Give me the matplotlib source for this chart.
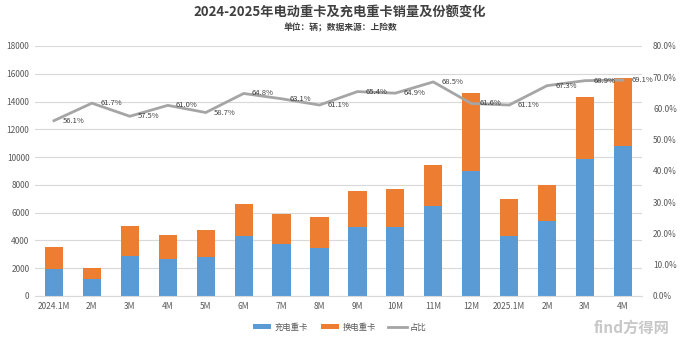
import matplotlib
matplotlib.use("Agg")
import matplotlib.pyplot as plt
from matplotlib.lines import Line2D
from matplotlib.patches import Patch

plt.rcParams['font.family'] = ['Noto Sans CJK SC', 'DejaVu Sans']

# Monthly sales (vehicles) and share of charging trucks
months = ["2024.1M", "2M", "3M", "4M", "5M", "6M", "7M", "8M",
          "9M", "10M", "11M", "12M", "2025.1M", "2M", "3M", "4M"]
charging = [1964, 1234, 2898, 2677, 2788, 4283, 3741, 3490,
            4965, 4993, 6473, 8984, 4286, 5401, 9884, 10827]
swapping = [1536, 766, 2142, 1712, 1962, 2326, 2188, 2222,
            2627, 2700, 2977, 5600, 2728, 2625, 4461, 4842]
share = [56.1, 61.7, 57.5, 61.0, 58.7, 64.8, 63.1, 61.1,
         65.4, 64.9, 68.5, 61.6, 61.1, 67.3, 68.9, 69.1]

BLUE = "#5B9BD5"
ORANGE = "#ED7D31"
GRAY = "#A5A5A5"
TICK = "#595959"

fig = plt.figure(figsize=(6.8, 3.38), dpi=100)
ax = fig.add_axes([0.0515, 0.1243, 0.8925, 0.7397])
ax2 = ax.twinx()

x = list(range(len(months)))
ax.bar(x, charging, width=0.48, color=BLUE, zorder=2)
ax.bar(x, swapping, width=0.48, bottom=charging, color=ORANGE, zorder=2)

ax.set_xlim(-0.5, len(months) - 0.5)
ax.set_ylim(0, 18000)
ax.set_yticks(range(0, 18001, 2000))
ax.set_xticks(x)
ax.set_xticklabels(months)
ax.grid(axis='y', color="#D9D9D9", linewidth=0.8, zorder=0)
ax.set_axisbelow(True)
for s in ["top", "left", "right"]:
    ax.spines[s].set_visible(False)
ax.spines["bottom"].set_color("#D9D9D9")
ax.tick_params(axis='both', length=0, labelsize=6, labelcolor=TICK)
ax.tick_params(axis='y', pad=4)
ax.tick_params(axis='x', pad=4)

ax2.plot(x, share, color=GRAY, linewidth=2, zorder=3)
ax2.set_ylim(0, 80)
ax2.set_yticks(range(0, 81, 10))
ax2.set_yticklabels([f"{v:.1f}%" for v in range(0, 81, 10)])
for s in ["top", "left", "right", "bottom"]:
    ax2.spines[s].set_visible(False)
ax2.tick_params(axis='y', length=0, labelsize=6, labelcolor=TICK, pad=8)

for xi, v in zip(x, share):
    ax2.annotate(f"{v:.1f}%", (xi, v), xytext=(6, 0), textcoords="offset points",
                 ha="left", va="center", fontsize=5.5, color="#404040", zorder=4)

fig.text(0.5, 0.962, "2024-2025年电动重卡及充电重卡销量及份额变化",
         ha="center", va="center", fontsize=9.5, fontweight="bold", color="#404040")
fig.text(0.5, 0.918, "单位：辆；数据来源：上险数",
         ha="center", va="center", fontsize=6.3, fontweight="bold", color="#404040")

handles = [Patch(facecolor=BLUE), Patch(facecolor=ORANGE),
           Line2D([0], [0], color=GRAY, linewidth=2)]
fig.legend(handles, ["充电重卡", "换电重卡", "占比"], loc="center",
           bbox_to_anchor=(0.5, 0.032), ncol=3, frameon=False, fontsize=6,
           labelcolor=TICK, handlelength=2.2, handleheight=0.5,
           columnspacing=1.5, handletextpad=0.4)

fig.text(0.985, 0.03, "find方得网", ha="right", va="center", fontsize=11,
         color="#C8C8C8", fontweight="bold")

fig.savefig("out.png", dpi=100)
